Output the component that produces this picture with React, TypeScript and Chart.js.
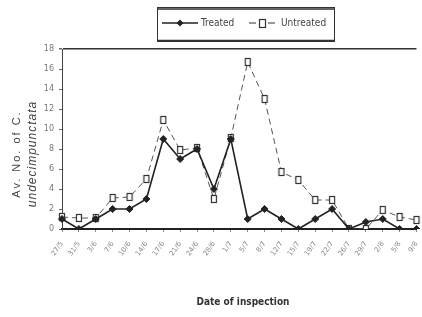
import React, { useEffect, useRef } from "react";
import { Chart, registerables } from "chart.js";

Chart.register(...registerables);

const dates = [
  "27/5", "31/5", "3/6", "7/6", "10/6", "14/6", "17/6", "21/6", "24/6", "28/6", "1/7",
  "5/7", "8/7", "12/7", "15/7", "19/7", "22/7", "26/7", "29/7", "2/8", "5/8", "9/8",
];
const treated = [1, 0, 1, 2, 2, 3, 9, 7, 8, 4, 9, 1, 2, 1, 0, 1, 2, 0, 0.7, 1, 0, 0];
const untreated = [1.2, 1.1, 1.1, 3.1, 3.2, 5, 10.9, 7.9, 8.1, 3, 9.1, 16.7, 13, 5.7, 4.9, 2.9, 2.9, 0, 0, 1.9, 1.2, 0.9];
const yTicks = [0, 2, 4, 6, 8, 10, 12, 14, 16, 18];
const seriesNames = ["Treated", "Untreated"];
const xTitle = "Date of inspection";
const yTitle1 = "Av. No. of C.";
const yTitle2 = "undecimpunctata";

function makeSquare(): HTMLCanvasElement {
  const c = document.createElement("canvas");
  c.width = 8;
  c.height = 10;
  const g = c.getContext("2d")!;
  g.fillStyle = "#fff";
  g.fillRect(1, 1, 6, 8);
  g.strokeStyle = "#333";
  g.lineWidth = 1.2;
  g.strokeRect(1.5, 1.5, 5, 7);
  return c;
}

const overlay = {
  id: "overlay",
  afterDraw(chart: any) {
    const ctx = chart.ctx as CanvasRenderingContext2D;
    ctx.save();
    // legend box
    ctx.strokeStyle = "#333";
    ctx.lineWidth = 1;
    ctx.strokeRect(157.5, 7.5, 177, 34);
    ctx.lineWidth = 1.5;
    ctx.beginPath();
    ctx.moveTo(157, 9);
    ctx.lineTo(335, 9);
    ctx.moveTo(157, 40.5);
    ctx.lineTo(335, 40.5);
    ctx.stroke();
    // treated sample
    ctx.strokeStyle = "#222";
    ctx.lineWidth = 1.5;
    ctx.beginPath();
    ctx.moveTo(162, 23);
    ctx.lineTo(198, 23);
    ctx.stroke();
    ctx.fillStyle = "#222";
    ctx.beginPath();
    ctx.moveTo(180, 19.5);
    ctx.lineTo(183.5, 23);
    ctx.lineTo(180, 26.5);
    ctx.lineTo(176.5, 23);
    ctx.closePath();
    ctx.fill();
    ctx.font = "10px 'DejaVu Sans Condensed'";
    ctx.textBaseline = "middle";
    ctx.textAlign = "left";
    ctx.fillStyle = "#444";
    ctx.fillText(seriesNames[0], 201, 23);
    // untreated sample
    ctx.strokeStyle = "#333";
    ctx.lineWidth = 1.2;
    ctx.beginPath();
    ctx.moveTo(249, 23);
    ctx.lineTo(256, 23);
    ctx.moveTo(268, 23);
    ctx.lineTo(275, 23);
    ctx.stroke();
    ctx.fillStyle = "#fff";
    ctx.fillRect(259, 19, 6, 8);
    ctx.strokeRect(259.5, 19.5, 6, 8);
    ctx.fillStyle = "#444";
    ctx.fillText(seriesNames[1], 281, 23);
    // y title
    ctx.save();
    ctx.translate(17, 154);
    ctx.rotate(-Math.PI / 2);
    ctx.textAlign = "center";
    ctx.textBaseline = "middle";
    ctx.fillStyle = "#444";
    (ctx as any).letterSpacing = "2px";
    ctx.font = "11px 'Liberation Sans'";
    ctx.fillText(yTitle1, 0, 0);
    (ctx as any).letterSpacing = "1px";
    ctx.font = "italic 12px 'Liberation Sans'";
    ctx.fillText(yTitle2, 0, 16);
    ctx.restore();
    // x title
    (ctx as any).letterSpacing = "0px";
    ctx.textAlign = "center";
    ctx.textBaseline = "middle";
    ctx.fillStyle = "#333";
    ctx.font = "bold 10px 'DejaVu Sans Condensed'";
    ctx.fillText(xTitle, 243, 302);
    ctx.restore();
  },
};

export default function App() {
  const ref = useRef<HTMLCanvasElement>(null);
  useEffect(() => {
    document.body.style.margin = "0";
    const square = makeSquare();
    const chart = new Chart(ref.current!, {
      type: "line",
      data: {
        labels: dates,
        datasets: [
          {
            label: seriesNames[0],
            data: treated,
            borderColor: "#222",
            backgroundColor: "#222",
            borderWidth: 1.6,
            pointStyle: "rectRot",
            pointRadius: 3.5,
            pointBorderWidth: 1,
            pointBorderColor: "#222",
            pointBackgroundColor: "#222",
            tension: 0,
          },
          {
            label: seriesNames[1],
            data: untreated,
            borderColor: "#555",
            borderWidth: 1,
            borderDash: [6, 4],
            pointStyle: square as any,
            pointRadius: 4.5,
            tension: 0,
          },
        ],
      },
      options: {
        animation: false,
        responsive: false,
        maintainAspectRatio: false,
        layout: { padding: { top: 49, right: 2, left: 0, bottom: 0 } },
        plugins: { legend: { display: false }, tooltip: { enabled: false } },
        scales: {
          x: {
            type: "category",
            offset: false,
            afterFit: (s: any) => {
              s.height = 88;
              s.paddingLeft = 0;
              s.paddingRight = 0;
            },
            grid: { drawOnChartArea: false, drawTicks: true, tickLength: 3, color: "#888" },
            border: { display: true, color: "#222", width: 2 },
            ticks: {
              autoSkip: false,
              minRotation: 55,
              maxRotation: 55,
              padding: 8,
              color: "#888",
              font: { size: 7, family: "'DejaVu Sans'" },
            },
          },
          y: {
            min: 0,
            max: 18,
            afterFit: (s: any) => {
              s.width = 62;
            },
            afterBuildTicks: (s: any) => {
              s.ticks = yTicks.map((v) => ({ value: v }));
            },
            grid: {
              color: (c: any) => (c.tick && (c.tick.value === 18 || c.tick.value === 0) ? "#333" : "rgba(0,0,0,0)"),
              lineWidth: (c: any) => (c.tick && c.tick.value === 18 ? 1.5 : 1),
              tickColor: "#666",
              tickLength: 3,
            },
            border: { display: true, color: "#444", width: 1 },
            ticks: {
              padding: 5,
              color: "#777",
              font: { size: 8, family: "'DejaVu Sans'" },
            },
          },
        },
      },
      plugins: [overlay],
    });
    return () => chart.destroy();
  }, []);
  return <canvas ref={ref} width={422} height={317} style={{ display: "block" }} />;
}
